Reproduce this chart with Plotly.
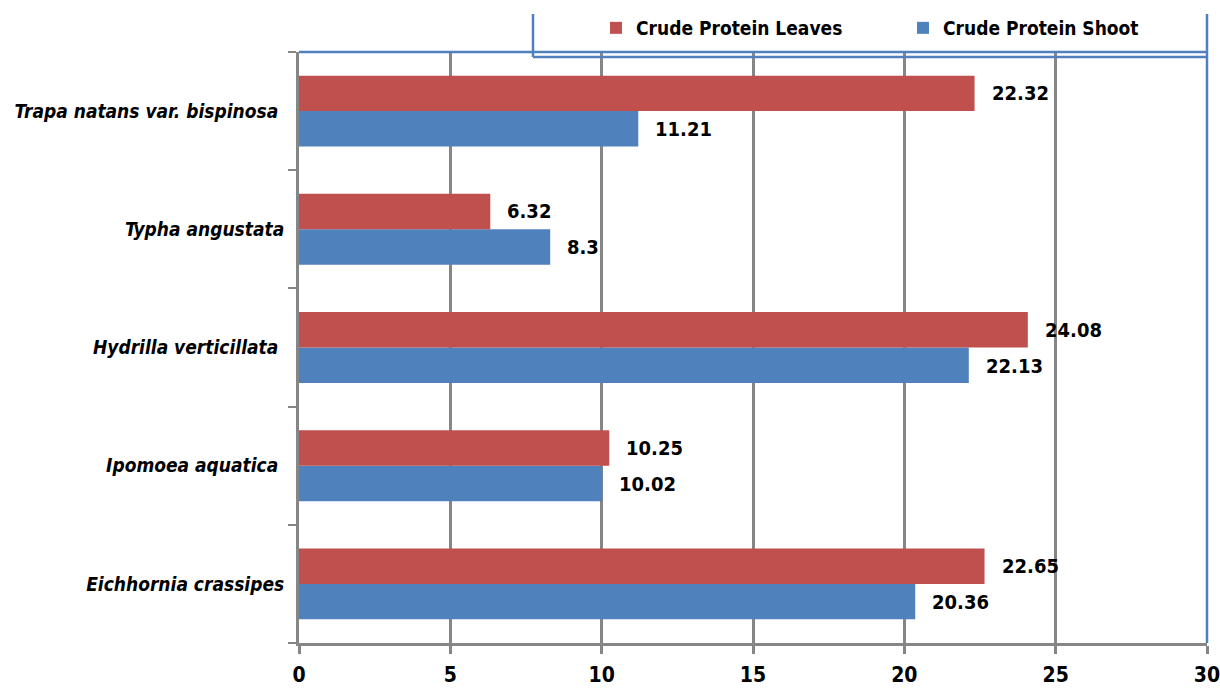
import plotly.graph_objects as go

# Crude protein content (%) per plant species
species = [
    "Eichhornia crassipes",
    "Ipomoea aquatica ",
    "Hydrilla verticillata ",
    "Typha angustata",
    "Trapa natans var. bispinosa ",
]
protein_leaves = [22.65, 10.25, 24.08, 6.32, 22.32]
protein_shoot = [20.36, 10.02, 22.13, 8.3, 11.21]
x_ticks = [0, 5, 10, 15, 20, 25, 30]

RED = "#C0504D"
BLUE = "#4F81BD"
GRID = "#868686"
FONT = "Liberation Sans Narrow, DejaVu Sans Condensed, Arial Narrow, sans-serif"

fig = go.Figure()
fig.add_trace(go.Bar(
    y=species, x=protein_shoot, orientation="h", name="<b>Crude Protein Shoot</b>",
    marker=dict(color=BLUE, line=dict(width=0)), legendrank=2,
))
fig.add_trace(go.Bar(
    y=species, x=protein_leaves, orientation="h", name="<b>Crude Protein Leaves</b>",
    marker=dict(color=RED, line=dict(width=0)), legendrank=1,
))

# Value labels to the right of each bar
for values, shift in ((protein_leaves, 18), (protein_shoot, -18)):
    for cat, v in zip(species, values):
        fig.add_annotation(
            x=v, y=cat, xref="x", yref="y", text=f"<b>{v:g}</b>",
            showarrow=False, xanchor="left", yanchor="middle",
            xshift=15, yshift=shift,
            font=dict(family=FONT, size=20, color="black"),
        )

W, H = 1220, 694
L, R, T, B = 299, 13, 52, 51
plot_h = H - T - B

def py(pix):
    return 1 + (T - pix) / plot_h

def px(pix):
    return (pix - L) / (W - L - R)

line_style = dict(color=BLUE, width=2.5)
shapes = [
    dict(type="line", xref="paper", yref="paper", x0=0, x1=1, y0=1, y1=1, line=line_style),
    dict(type="line", xref="paper", yref="paper", x0=1, x1=1, y0=0, y1=py(14), line=line_style),
    dict(type="line", xref="paper", yref="paper", x0=px(533), x1=px(533), y0=py(14), y1=py(57), line=line_style),
    dict(type="line", xref="paper", yref="paper", x0=px(533), x1=1, y0=py(57), y1=py(57), line=line_style),
]

fig.update_layout(
    width=W, height=H,
    margin=dict(l=L, r=R, t=T, b=B, autoexpand=False),
    paper_bgcolor="white", plot_bgcolor="white",
    barmode="group", bargap=0.4, bargroupgap=0,
    showlegend=True,
    legend=dict(
        orientation="h", x=px(596), y=py(28), xanchor="left", yanchor="middle",
        font=dict(family=FONT, size=19, color="black"),
        entrywidth=262, entrywidthmode="pixels", itemwidth=30,
        bgcolor="rgba(0,0,0,0)",
    ),
    shapes=shapes,
    xaxis=dict(
        range=[0, 30], tickvals=x_ticks, ticktext=[f"<b>{t}</b>" for t in x_ticks],
        showgrid=True, gridcolor=GRID, gridwidth=3,
        showline=True, linecolor=GRID, linewidth=3,
        ticks="outside", ticklen=8, tickwidth=3, tickcolor=GRID,
        ticklabelstandoff=3, ticklabeloverflow="allow",
        tickfont=dict(family=FONT, size=21, color="black"),
        zeroline=False, fixedrange=True,
    ),
    yaxis=dict(
        categoryorder="array", categoryarray=species,
        ticktext=[f"<b><i>{s}</i></b>" for s in species], tickvals=species,
        showgrid=False,
        showline=True, linecolor=GRID, linewidth=3,
        ticks="outside", tickson="boundaries", ticklen=8, tickwidth=2, tickcolor=GRID,
        ticklabelstandoff=8,
        tickfont=dict(family=FONT, size=19, color="black"),
        fixedrange=True,
    ),
)

fig.write_html("out.html")
